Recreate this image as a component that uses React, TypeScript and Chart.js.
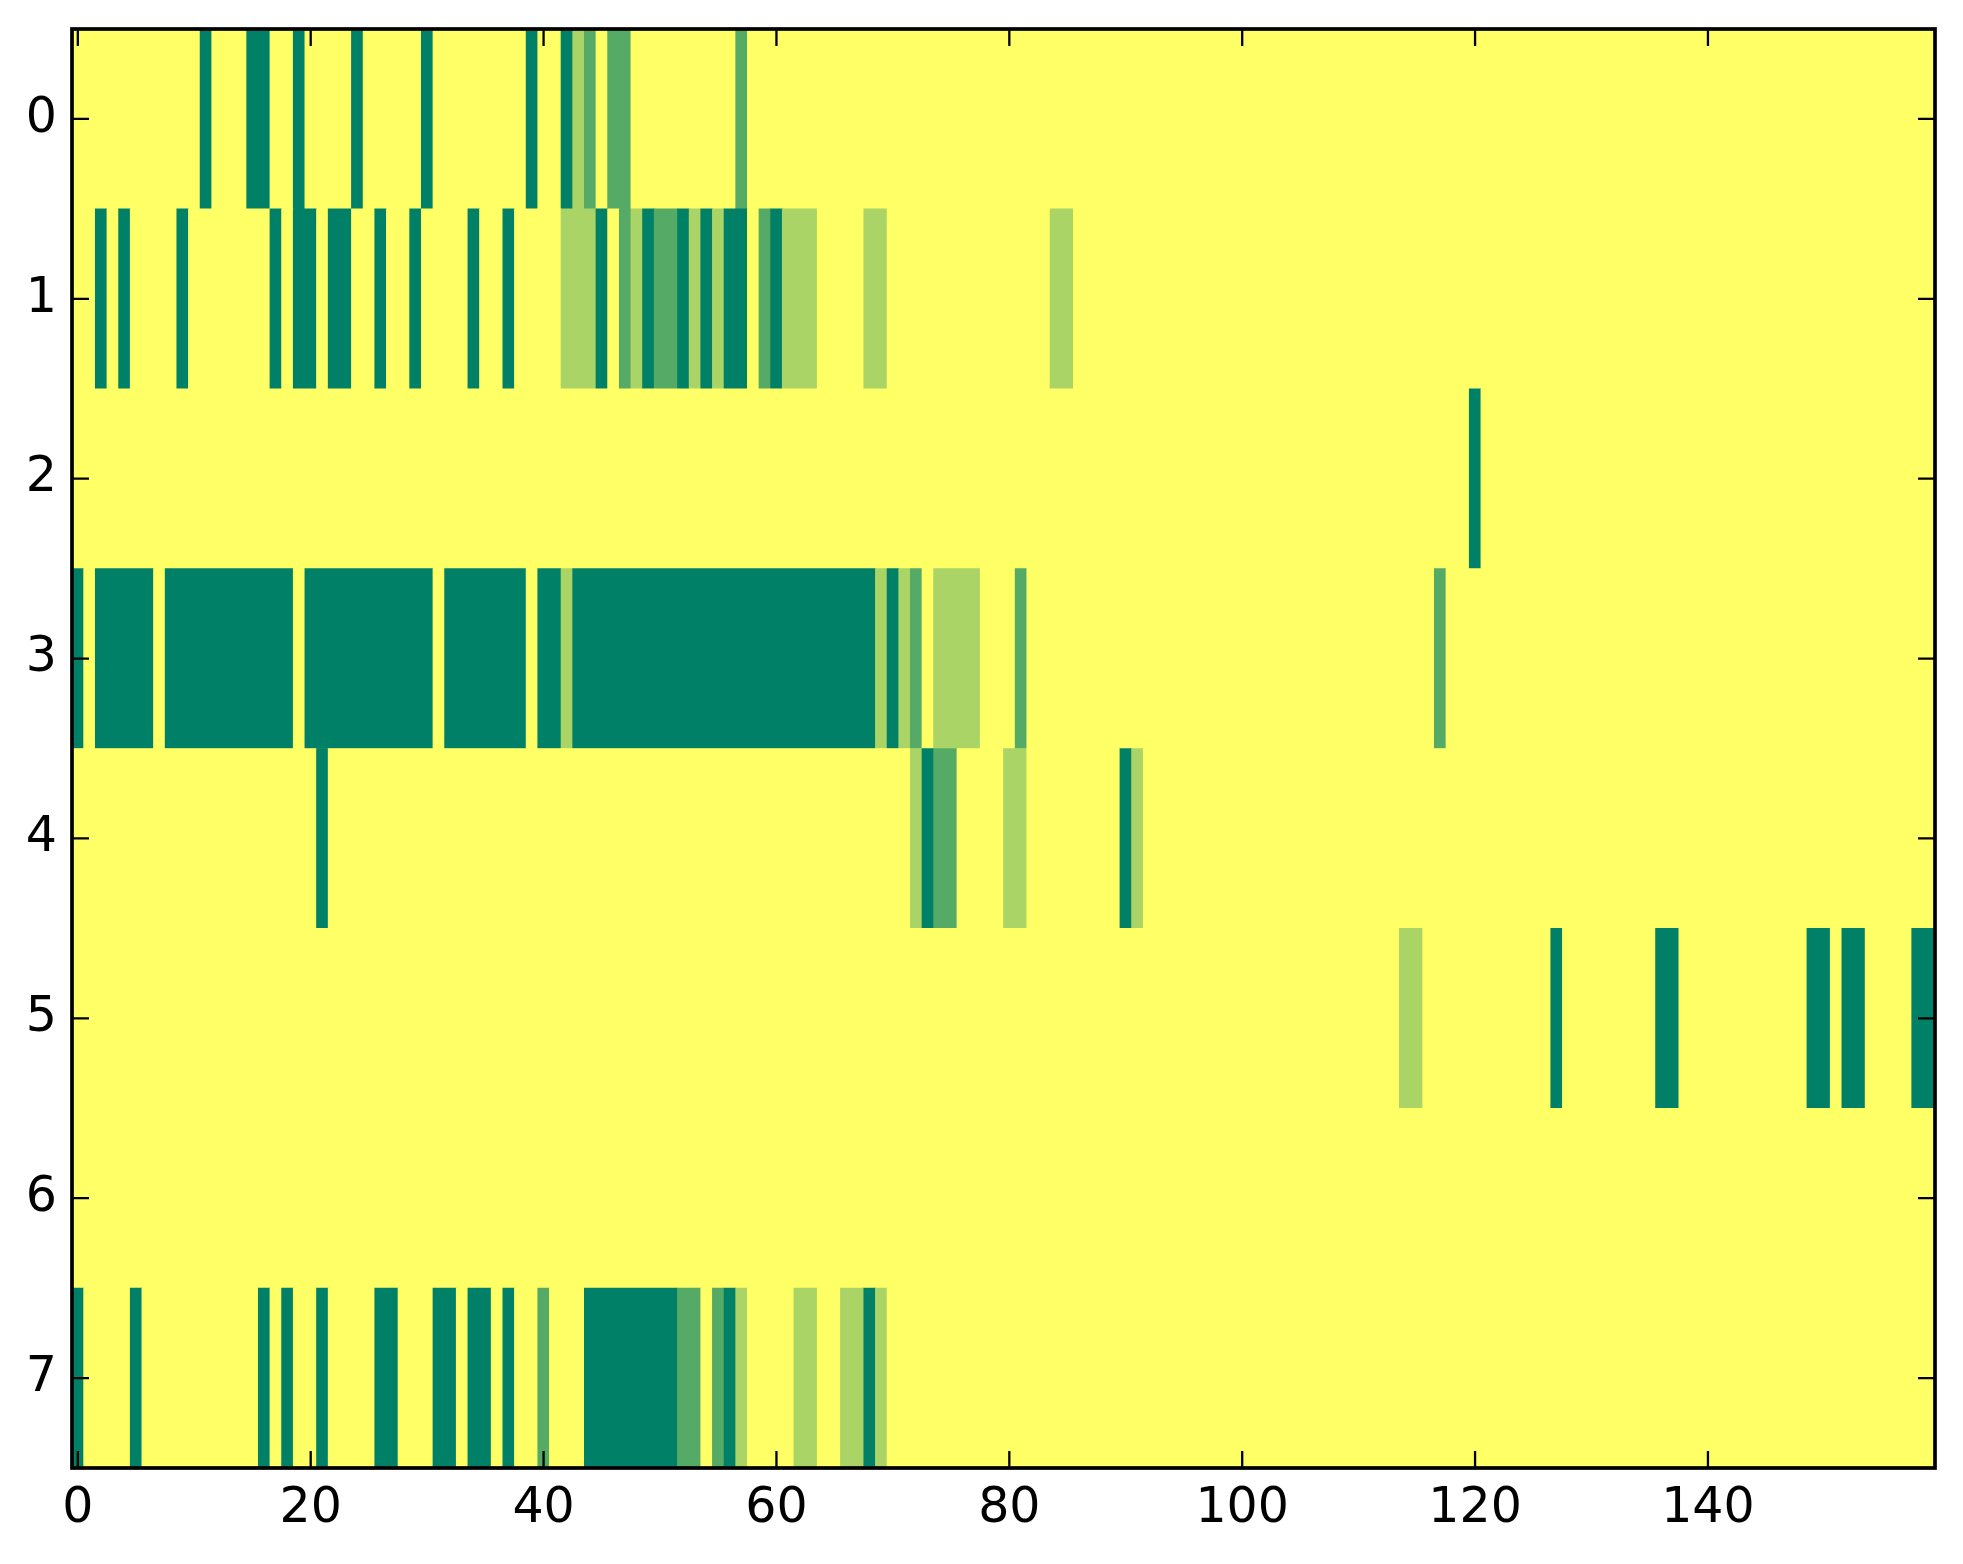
import React, { useEffect, useRef } from 'react';
import { Chart, registerables } from 'chart.js';

Chart.register(...registerables);

// ---- data ----
const rowLabels: string[] = ['0', '1', '2', '3', '4', '5', '6', '7'];
const columnCount = 160;
const xTickValues: number[] = [0, 20, 40, 60, 80, 100, 120, 140];
// colour per level (summer colormap): 0 = yellow, 1 = light, 2 = medium, 3 = dark
const levelColors: string[] = ['#ffff66', '#aad466', '#55aa66', '#008066'];

// column indices per row holding level 1 (light green)
const lightCells: number[][] = [
  [43],
  [42, 43, 44, 48, 53, 55, 61, 62, 63, 68, 69, 84, 85],
  [],
  [42, 69, 71, 74, 75, 76, 77],
  [72, 80, 81, 91],
  [114, 115],
  [],
  [57, 62, 63, 66, 67, 69],
];

// column indices per row holding level 2 (medium green)
const mediumCells: number[][] = [
  [44, 46, 47, 57],
  [47, 50, 51, 59],
  [],
  [72, 81, 117],
  [74, 75],
  [],
  [],
  [40, 52, 53, 55],
];

// column indices per row holding level 3 (dark green)
const darkCells: number[][] = [
  [11, 15, 16, 19, 24, 30, 39, 42],
  [2, 4, 9, 17, 19, 20, 22, 23, 26, 29, 34, 37, 45, 49, 52, 54, 56, 57, 60],
  [120],
  [0, 2, 3, 4, 5, 6, 8, 9, 10, 11, 12, 13, 14, 15, 16, 17, 18, 20, 21, 22, 23, 24, 25, 26, 27, 28, 29, 30,
    32, 33, 34, 35, 36, 37, 38, 40, 41, 43, 44, 45, 46, 47, 48, 49, 50, 51, 52, 53, 54, 55, 56, 57, 58, 59,
    60, 61, 62, 63, 64, 65, 66, 67, 68, 70],
  [21, 73, 90],
  [127, 136, 137, 149, 150, 152, 153, 158, 159],
  [],
  [0, 5, 16, 18, 21, 26, 27, 31, 32, 34, 35, 37, 44, 45, 46, 47, 48, 49, 50, 51, 56, 68],
];

type Run = { row: number; start: number; end: number; level: number };

function buildRuns(): Run[] {
  const runs: Run[] = [];
  rowLabels.forEach((_, r) => {
    const levels: number[] = new Array(columnCount).fill(0);
    lightCells[r].forEach((c) => (levels[c] = 1));
    mediumCells[r].forEach((c) => (levels[c] = 2));
    darkCells[r].forEach((c) => (levels[c] = 3));
    let start = 0;
    for (let c = 1; c <= columnCount; c++) {
      if (c === columnCount || levels[c] !== levels[start]) {
        runs.push({ row: r, start, end: c - 1, level: levels[start] });
        start = c;
      }
    }
  });
  return runs;
}

const FONT = 'DejaVu Sans';
const FONT_SIZE = 49;

const framePlugin = {
  id: 'mplFrame',
  beforeDatasetsDraw(chart: any) {
    const { ctx, chartArea: a } = chart;
    ctx.save();
    ctx.fillStyle = levelColors[0];
    ctx.fillRect(a.left, a.top, a.right - a.left, a.bottom - a.top);
    ctx.restore();
  },
  afterDraw(chart: any) {
    const { ctx, chartArea: a, scales } = chart;
    const L = 17;
    ctx.save();
    ctx.strokeStyle = '#000';
    ctx.lineWidth = 2.3;
    ctx.beginPath();
    xTickValues.forEach((v) => {
      const px = scales.x.getPixelForValue(v);
      ctx.moveTo(px, a.bottom);
      ctx.lineTo(px, a.bottom - L);
      ctx.moveTo(px, a.top);
      ctx.lineTo(px, a.top + L);
    });
    rowLabels.forEach((_, i) => {
      const py = scales.y.getPixelForValue(i);
      ctx.moveTo(a.left, py);
      ctx.lineTo(a.left + L, py);
      ctx.moveTo(a.right, py);
      ctx.lineTo(a.right - L, py);
    });
    ctx.stroke();
    ctx.lineWidth = 3.7;
    ctx.strokeRect(a.left, a.top, a.right - a.left, a.bottom - a.top);
    ctx.restore();
  },
};

export default function App() {
  const canvasRef = useRef<HTMLCanvasElement | null>(null);

  useEffect(() => {
    document.body.style.margin = '0';
    const canvas = canvasRef.current;
    if (!canvas) return;
    const runs = buildRuns();
    const chart = new Chart(canvas, {
      type: 'bar',
      data: {
        labels: rowLabels,
        datasets: [
          {
            data: runs.map((r) => ({ y: rowLabels[r.row], x: [r.start - 0.5, r.end + 0.5] })) as any,
            backgroundColor: runs.map((r) => levelColors[r.level]),
            borderWidth: 0,
            barPercentage: 1,
            categoryPercentage: 1,
          },
        ],
      },
      options: {
        indexAxis: 'y',
        animation: false,
        responsive: false,
        devicePixelRatio: 1,
        layout: { padding: { top: 29, right: 28, left: 0, bottom: 0 } },
        plugins: { legend: { display: false }, tooltip: { enabled: false } },
        scales: {
          x: {
            type: 'linear',
            min: -0.5,
            max: columnCount - 0.5,
            grid: { display: false },
            border: { display: false },
            afterBuildTicks: (s: any) => {
              s.ticks = xTickValues.map((v) => ({ value: v }));
            },
            afterFit: (s: any) => {
              s.height = 96;
              s.paddingLeft = 0;
              s.paddingRight = 0;
            },
            ticks: {
              autoSkip: false,
              maxRotation: 0,
              padding: 4,
              color: '#000',
              font: { family: FONT, size: FONT_SIZE },
              callback: (v: any) => String(v),
            },
          },
          y: {
            type: 'category',
            grid: { display: false },
            border: { display: false },
            afterFit: (s: any) => {
              s.width = 72;
              s.paddingTop = 0;
              s.paddingBottom = 0;
            },
            ticks: {
              padding: 7,
              color: '#000',
              font: { family: FONT, size: FONT_SIZE },
            },
          },
        },
      },
      plugins: [framePlugin],
    });
    return () => chart.destroy();
  }, []);

  return (
    <div style={{ width: 1963, height: 1564, background: '#fff' }}>
      <canvas ref={canvasRef} width={1963} height={1564} style={{ display: 'block' }} />
    </div>
  );
}
